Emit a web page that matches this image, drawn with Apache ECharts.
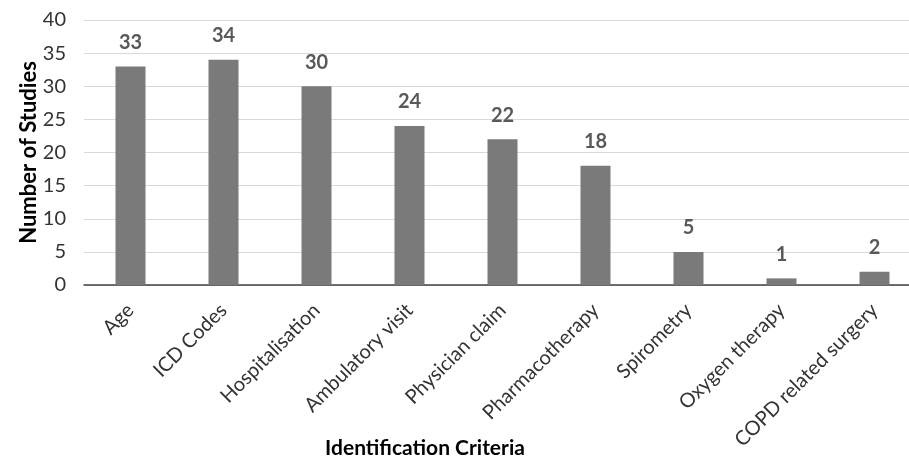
<!DOCTYPE html>
<html>
<head>
<meta charset="utf-8">
<script src="https://cdn.jsdelivr.net/npm/echarts@6/dist/echarts.min.js"></script>
<style>
  html, body { margin: 0; padding: 0; background: #fff; }
  #chart { width: 909px; height: 460px; }
</style>
</head>
<body>
<div id="chart"></div>
<script>
// Identification criteria used across studies
const categories = ['Age', 'ICD Codes', 'Hospitalisation', 'Ambulatory visit', 'Physician claim',
  'Pharmacotherapy', 'Spirometry', 'Oxygen therapy', 'COPD related surgery'];
const studyCounts = [33, 34, 30, 24, 22, 18, 5, 1, 2];
const yTicks = [0, 5, 10, 15, 20, 25, 30, 35, 40];

const font = 'Lato, "Open Sans", sans-serif';
const chart = echarts.init(document.getElementById('chart'), null, { renderer: 'canvas' });
chart.setOption({
  animation: false,
  grid: { left: 84, top: 20, width: 837, height: 265, containLabel: false, outerBoundsMode: 'none' },
  xAxis: {
    type: 'category',
    data: categories,
    name: 'Identification Criteria',
    nameLocation: 'middle',
    nameGap: 153,
    nameMoveOverlap: false,
    nameTextStyle: {
      fontFamily: font, fontSize: 21, fontWeight: 'bold', color: '#000',
      padding: [0, 155, 0, 0]
    },
    axisLine: { lineStyle: { color: '#404040', width: 1.5 } },
    axisTick: { show: false },
    axisLabel: { rotate: 45, interval: 0, margin: 22, fontFamily: font, fontSize: 20, color: '#333' }
  },
  yAxis: {
    type: 'value',
    min: yTicks[0],
    max: yTicks[yTicks.length - 1],
    interval: 5,
    name: 'Number of Studies',
    nameLocation: 'middle',
    nameGap: 44,
    nameMoveOverlap: false,
    nameTextStyle: { fontFamily: font, fontSize: 22, fontWeight: 'bold', color: '#000' },
    axisLine: { show: false },
    axisTick: { show: false },
    axisLabel: { margin: 18, fontFamily: font, fontSize: 20, color: '#333' },
    splitLine: { lineStyle: { color: '#d9d9d9', width: 1 } }
  },
  series: [{
    type: 'bar',
    data: studyCounts,
    barWidth: 30,
    itemStyle: { color: '#7a7a7a' },
    label: {
      show: true,
      position: 'top',
      distance: 14,
      fontFamily: font,
      fontSize: 20,
      fontWeight: 'bold',
      color: '#595959'
    }
  }]
});
</script>
</body>
</html>
